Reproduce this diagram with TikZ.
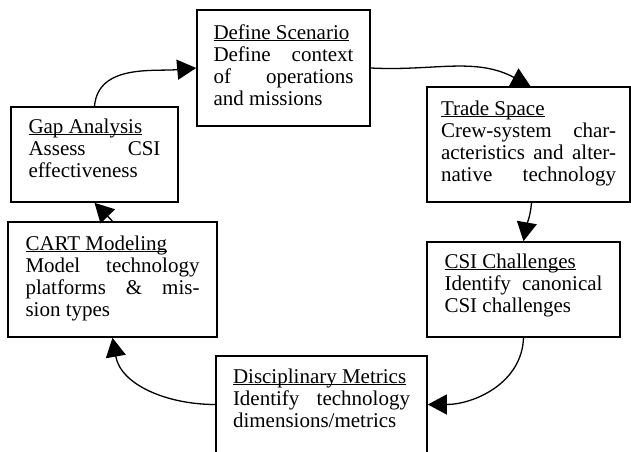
\documentclass[tikz,border=0pt]{standalone}
\usepackage{fontspec}
\setmainfont{Liberation Serif}
\usetikzlibrary{arrows.meta}

\newcommand{\stagebody}[4]{\parbox[c][#2][t]{#1}{\vspace*{#3}#4}}
\newcommand{\fillline}[1]{\makebox[\linewidth][s]{#1}}

\begin{document}
\begin{tikzpicture}[x=1pt,y=1pt,
		stage/.style={draw, line width=1.6pt, fill=white, inner sep=0pt, font=\fontsize{21pt}{22pt}\selectfont},
		flow/.style={line width=1.3pt, -{Triangle[length=19pt,width=20pt]}}]
		\useasboundingbox (0,0) rectangle (631,451);
		
		\node[stage, minimum width=173pt] (scen) at (283.5,383) {\stagebody{140pt}{116pt}{13.6pt}{%
				\strut\underbar{Define Scenario}\\
				\fillline{Define context}\\
				\fillline{of operations}\\
				and missions}};
		\node[stage, minimum width=203pt] (trade) at (528.5,306.5) {\stagebody{175pt}{115pt}{12.6pt}{%
				\strut\underbar{Trade Space}\\
				\fillline{Crew-system char-}\\
				\fillline{acteristics and alter-}\\
				\fillline{native technology}}};
		\node[stage, minimum width=193pt] (csi) at (523.5,161.5) {\stagebody{158pt}{95pt}{10.6pt}{%
				\strut\underbar{CSI Challenges}\\
				\fillline{Identify canonical}\\
				CSI challenges}};
		\node[stage, minimum width=211pt] (disc) at (321.5,46.5) {\stagebody{177pt}{97pt}{11.6pt}{%
				\strut\underbar{Disciplinary Metrics}\\
				\fillline{Identify technology}\\
				dimensions/metrics}};
		\node[stage, minimum width=209pt] (cart) at (112.5,171.5) {\stagebody{174pt}{115pt}{12.6pt}{%
				\strut\underbar{CART Modeling}\\
				\fillline{Model technology}\\
				\fillline{platforms \& mis-}\\
				sion types}};
		\node[stage, minimum width=167pt] (gap) at (94.5,296.5) {\stagebody{132pt}{95pt}{10.6pt}{%
				\strut\underbar{Gap Analysis}\\
				\fillline{Assess CSI}\\
				effectiveness}};
		
		\draw[flow] (gap.north) to[out=85,in=185] (scen.west);
		\draw[flow] (scen.east) to[out=-3,in=152] ([xshift=2pt]trade.north);
		\draw[flow] ([xshift=3pt]trade.south) to[out=-95,in=80] (csi.north);
		\draw[flow] (csi.south) to[out=-92,in=0] (disc.east);
		\draw[flow] (disc.west) to[out=180,in=-80] (cart.south);
		\draw[flow] (cart.north) -- (gap.south);
\end{tikzpicture}
\end{document}
